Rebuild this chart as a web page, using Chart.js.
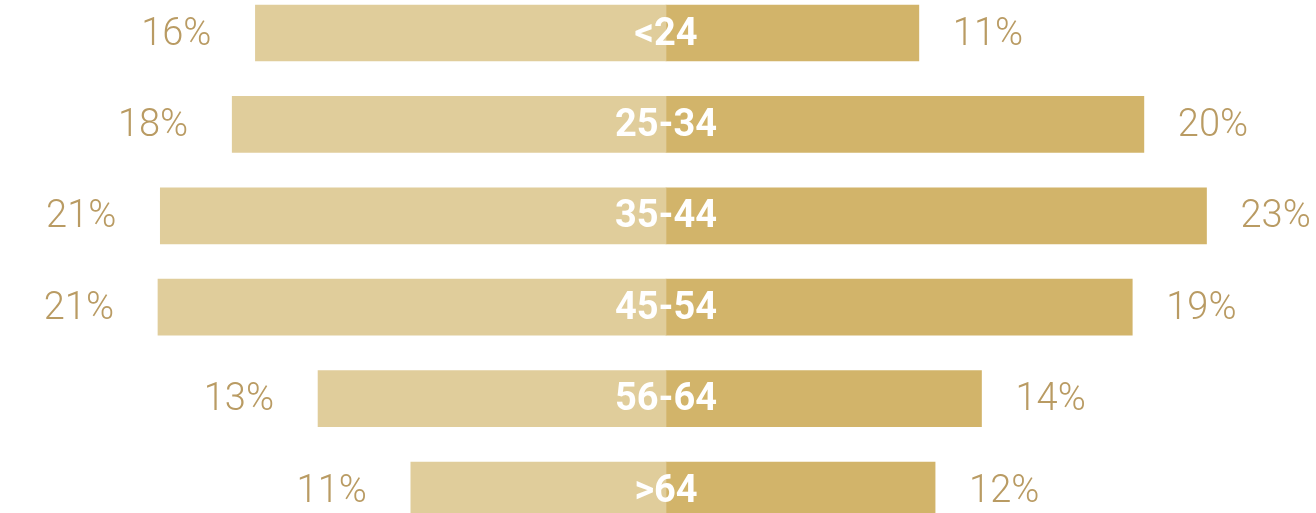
<!DOCTYPE html>
<html>
<head>
<meta charset="utf-8">
<script src="https://cdn.jsdelivr.net/npm/chart.js@4"></script>
<style>
  html, body { margin: 0; padding: 0; background: #fff; }
  #wrap { width: 1316px; height: 513px; position: relative; }
</style>
</head>
<body>
<div id="wrap"><canvas id="ageChart"></canvas></div>
<script>
// Age groups, top to bottom
const ageGroups = ["<24", "25-34", "35-44", "45-54", "56-64", ">64"];
// Bar lengths (left = first group, right = second group)
const leftValues = [17.7, 18.7, 21.8, 21.9, 15.0, 11.0];
const rightValues = [10.9, 20.6, 23.3, 20.1, 13.6, 11.6];
// Printed labels
const leftLabels = ["16%", "18%", "21%", "21%", "13%", "11%"];
const rightLabels = ["11%", "20%", "23%", "19%", "14%", "12%"];

const lightGold = "#E0CD9B";
const darkGold = "#D2B46A";
const labelColor = "#B99B63";

// draws the percentages at the bar ends and the group name in the middle
const labelPlugin = {
  id: "butterflyLabels",
  afterDatasetsDraw(chart) {
    const ctx = chart.ctx;
    const x = chart.scales.x;
    const left = chart.getDatasetMeta(0).data;
    const right = chart.getDatasetMeta(1).data;
    ctx.save();
    ctx.textBaseline = "middle";
    ctx.font = "300 38px Roboto";
    ctx.fillStyle = labelColor;
    left.forEach((bar, i) => {
      ctx.textAlign = "right";
      ctx.fillText(leftLabels[i], bar.x - 44, bar.y + 2);
    });
    right.forEach((bar, i) => {
      ctx.textAlign = "left";
      ctx.fillText(rightLabels[i], bar.x + 34, bar.y + 2);
    });
    ctx.font = "bold 38px Roboto";
    ctx.fillStyle = "#ffffff";
    ctx.textAlign = "center";
    const zero = x.getPixelForValue(0);
    right.forEach((bar, i) => {
      ctx.fillText(ageGroups[i], zero, bar.y + 2);
    });
    ctx.restore();
  },
};

new Chart(document.getElementById("ageChart"), {
  type: "bar",
  data: {
    labels: ageGroups,
    datasets: [
      {
        data: leftValues.map((v) => -v),
        backgroundColor: lightGold,
        barThickness: 56,
        clip: false,
      },
      {
        data: rightValues,
        backgroundColor: darkGold,
        barThickness: 56,
        clip: false,
      },
    ],
  },
  options: {
    indexAxis: "y",
    responsive: true,
    maintainAspectRatio: false,
    animation: false,
    layout: { padding: { top: 33, bottom: 23, left: 0, right: 0 } },
    scales: {
      x: { display: false, stacked: true, min: -28.71, max: 28.02 },
      y: { display: false, stacked: true, offset: false },
    },
    plugins: {
      legend: { display: false },
      tooltip: { enabled: false },
    },
  },
  plugins: [labelPlugin],
});
</script>
</body>
</html>
